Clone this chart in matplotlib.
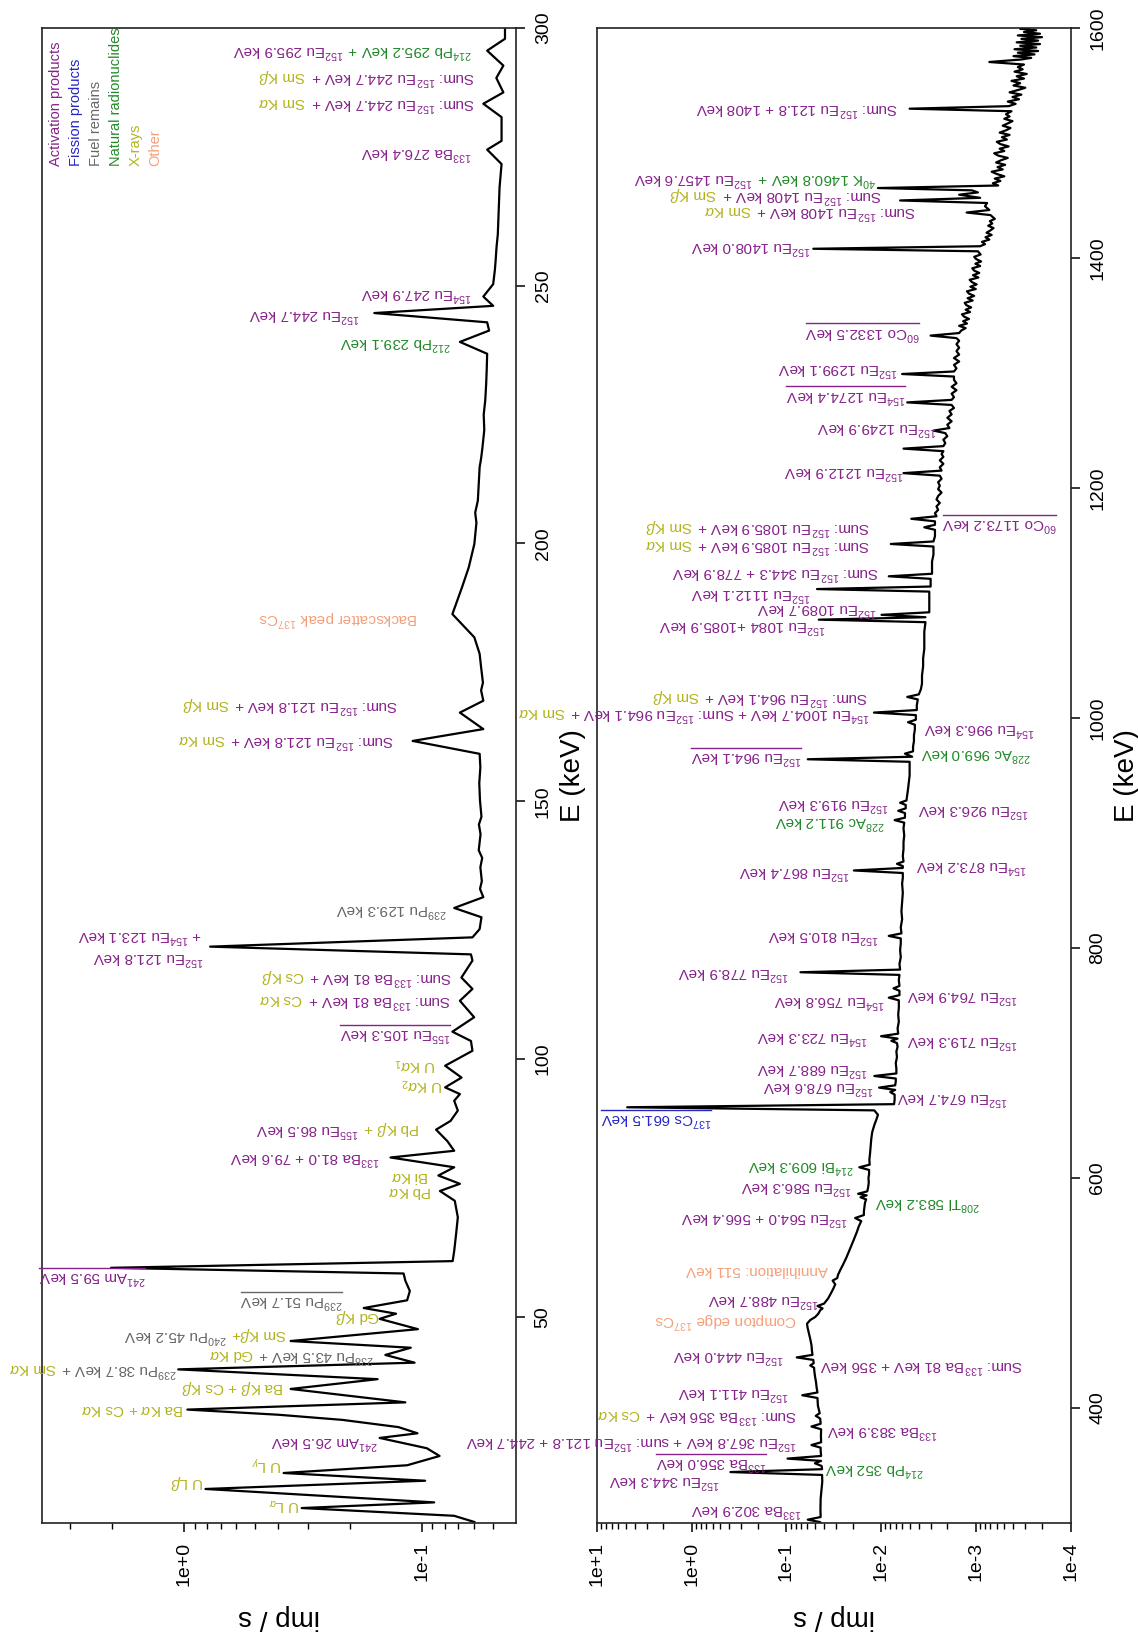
import numpy as np
import matplotlib
matplotlib.use("Agg")
import matplotlib.pyplot as plt
from matplotlib.ticker import FixedLocator, FuncFormatter, LogLocator, NullFormatter
from matplotlib.transforms import ScaledTranslation
from matplotlib.lines import Line2D

plt.rcParams['font.family'] = ['Liberation Sans', 'DejaVu Sans']
plt.rcParams['mathtext.fontset'] = 'custom'
plt.rcParams['mathtext.rm'] = 'Liberation Sans'
plt.rcParams['mathtext.it'] = 'Liberation Sans:italic'
plt.rcParams['mathtext.bf'] = 'Liberation Sans:bold'
plt.rcParams['mathtext.sf'] = 'Liberation Sans'

# spectrum, low energy part: (keV, imp/s)
LOW_SPECTRUM = [
    (10.2, 0.060), (11.4, 0.073), (12.9, 0.319), (14.0, 0.0885), (16.6, 0.810),
    (18.2, 0.0966), (19.7, 0.380), (21.2, 0.115), (23.0, 0.084), (24.5, 0.095),
    (26.5, 0.150), (27.4, 0.104), (28.6, 0.125), (30.0, 0.215), (31.0, 0.40),
    (32.0, 0.965), (33.4, 0.117), (36.0, 0.355), (37.9, 0.153), (39.8, 1.054),
    (41.1, 0.107), (42.6, 0.142), (44.0, 0.111), (45.3, 0.355), (47.6, 0.1036),
    (49.6, 0.150), (50.6, 0.128), (51.7, 0.175), (53.2, 0.115), (55.0, 0.112),
    (57.0, 0.117), (58.4, 0.119), (59.5, 2.02), (60.8, 0.074), (62.8, 0.0729),
    (66.0, 0.0716), (69.3, 0.0704), (72.5, 0.0725), (74.4, 0.0837), (75.8, 0.069),
    (77.4, 0.085), (79.0, 0.0729), (80.9, 0.135), (82.2, 0.0729), (84.1, 0.078),
    (86.3, 0.0869), (88.0, 0.0755), (90.0, 0.0704), (91.9, 0.0729), (93.2, 0.069),
    (94.5, 0.0796), (96.4, 0.0679), (98.7, 0.0796), (101.6, 0.0611), (103.5, 0.062),
    (105.3, 0.0742), (108.1, 0.0601), (111.3, 0.069), (113.6, 0.0611), (115.8, 0.068),
    (119.1, 0.0611), (120.3, 0.062), (121.8, 0.774), (123.6, 0.0611), (125.2, 0.057),
    (127.5, 0.056), (129.3, 0.0729), (131.4, 0.055), (133.0, 0.0568), (134.5, 0.0558),
    (137.2, 0.0566), (139.0, 0.0556), (140.5, 0.0575), (143.6, 0.0565), (145.5, 0.0574),
    (147.0, 0.056), (150.1, 0.0568), (153.5, 0.0572), (156.6, 0.0566), (159.2, 0.057),
    (161.7, 0.109), (164.0, 0.055), (167.2, 0.069), (169.5, 0.055), (171.5, 0.0562),
    (173.0, 0.0552), (176.0, 0.0562), (178.6, 0.057), (181.8, 0.060),
    (183.7, 0.0656), (186.3, 0.0742), (188.3, 0.0716), (191.5, 0.0676), (195.4, 0.0633),
    (199.9, 0.060), (204.0, 0.0588), (206.0, 0.0595), (208.3, 0.058), (211.5, 0.0575),
    (214.8, 0.057), (216.5, 0.0562), (218.5, 0.0555), (222.0, 0.0545), (225.0, 0.0548),
    (227.7, 0.054), (231.0, 0.0535), (234.0, 0.0532), (236.8, 0.053), (239.1, 0.069),
    (241.3, 0.052), (242.9, 0.053), (244.7, 0.158), (246.1, 0.050), (247.9, 0.055),
    (250.3, 0.050), (253.0, 0.0492), (255.0, 0.0488), (257.5, 0.0484), (260.0, 0.0478),
    (264.5, 0.0474), (269.1, 0.047), (273.6, 0.0461), (276.4, 0.053), (278.1, 0.0461),
    (282.7, 0.0461), (285.3, 0.055), (287.5, 0.0453), (290.3, 0.0485), (292.7, 0.0453),
    (295.6, 0.053), (297.9, 0.0446), (300.0, 0.0446),
]

# spectrum, high energy part: (keV, imp/s)
HIGH_SPECTRUM = [
    (300.0, 0.0435), (300.8, 0.044), (302.9, 0.0595), (305.2, 0.0435), (312.0, 0.0437),
    (321.0, 0.0435), (330.0, 0.0425), (336.0, 0.0418), (341.8, 0.042), (344.3, 0.390),
    (346.8, 0.042), (349.6, 0.0425), (351.9, 0.050), (354.0, 0.043), (356.0, 0.0973),
    (358.3, 0.043), (363.2, 0.0435), (365.5, 0.0435), (367.8, 0.0544), (370.2, 0.043),
    (376.0, 0.0432), (381.5, 0.043), (383.9, 0.0544), (386.3, 0.0435), (390.8, 0.044),
    (393.2, 0.049), (395.5, 0.0445), (402.0, 0.0465), (408.7, 0.047), (411.1, 0.068),
    (413.5, 0.047), (418.0, 0.048), (422.6, 0.0487), (428.0, 0.050), (432.7, 0.0508),
    (435.0, 0.051), (437.0, 0.056), (439.0, 0.0515), (441.8, 0.052), (444.0, 0.0778),
    (446.2, 0.053), (450.0, 0.0538), (454.4, 0.0543), (460.0, 0.056), (466.0, 0.0582),
    (470.0, 0.0598), (473.3, 0.0606), (476.5, 0.056), (479.1, 0.0497), (482.0, 0.046),
    (484.9, 0.044), (486.6, 0.0415), (488.7, 0.047), (490.8, 0.040), (495.2, 0.0363),
    (499.5, 0.034), (503.9, 0.0319), (507.5, 0.0305), (510.8, 0.0325), (513.0, 0.029),
    (515.5, 0.0286), (520.0, 0.027), (524.2, 0.0254), (531.0, 0.0232), (538.7, 0.0212),
    (546.0, 0.0195), (553.2, 0.018), (558.0, 0.0172), (562.5, 0.0162), (565.2, 0.0188),
    (567.8, 0.0152), (571.0, 0.0152), (575.0, 0.015), (578.5, 0.0148), (581.4, 0.0144),
    (583.2, 0.0165), (584.9, 0.0142), (586.3, 0.0175), (588.4, 0.014), (592.0, 0.0137),
    (596.0, 0.0135), (600.0, 0.0136), (603.5, 0.0134), (607.0, 0.0134), (609.3, 0.017),
    (611.6, 0.0132), (616.0, 0.0133), (621.0, 0.0131), (627.0, 0.0129), (634.0, 0.0127),
    (640.0, 0.0124), (646.0, 0.0118), (651.0, 0.0112), (655.0, 0.0108), (658.8, 0.0118),
    (661.5, 4.80), (664.2, 0.0073), (668.0, 0.0072), (672.5, 0.0072), (674.7, 0.0080),
    (676.6, 0.0071), (678.6, 0.0105), (680.6, 0.0071), (684.0, 0.0070), (686.5, 0.0070),
    (688.7, 0.0118), (690.9, 0.0069), (695.0, 0.0069), (700.0, 0.0070), (705.0, 0.0068),
    (710.0, 0.0069), (714.0, 0.0067), (717.3, 0.0068), (719.3, 0.0078), (721.2, 0.0067),
    (723.3, 0.0100), (725.5, 0.0066), (730.0, 0.0067), (736.0, 0.0065), (742.0, 0.0066),
    (748.0, 0.0065), (754.5, 0.0065), (756.8, 0.0083), (759.0, 0.0064), (762.8, 0.0064),
    (764.9, 0.0074), (767.0, 0.0064), (772.0, 0.0065), (776.6, 0.0064), (778.9, 0.0711),
    (781.2, 0.0063), (786.0, 0.0064), (792.0, 0.0062), (798.0, 0.0063), (804.0, 0.0062),
    (808.3, 0.0062), (810.5, 0.0083), (812.7, 0.0061), (818.0, 0.0062), (825.0, 0.0060),
    (832.0, 0.0061), (840.0, 0.0060), (848.0, 0.0059), (856.0, 0.0060), (861.0, 0.0059),
    (865.2, 0.0059), (867.4, 0.0194), (869.6, 0.0059), (871.2, 0.0059), (873.2, 0.0068),
    (875.2, 0.0058), (880.0, 0.0059), (886.0, 0.0058), (892.0, 0.0058), (898.0, 0.0057),
    (904.0, 0.0058), (909.0, 0.0057), (911.2, 0.0072), (913.3, 0.0056), (917.3, 0.0056),
    (919.3, 0.0066), (921.4, 0.0055), (924.4, 0.0055), (926.3, 0.0063), (928.3, 0.0054),
    (933.0, 0.0053), (938.0, 0.0052), (944.0, 0.0051), (950.0, 0.0050), (956.0, 0.0050),
    (961.9, 0.0050), (964.1, 0.0595), (966.3, 0.0047), (969.0, 0.0056), (971.0, 0.0046),
    (975.0, 0.0046), (980.0, 0.0045), (985.0, 0.0045), (990.0, 0.0044), (994.1, 0.0044),
    (996.3, 0.0052), (998.5, 0.0043), (1002.5, 0.0043), (1004.7, 0.0119), (1006.9, 0.0042),
    (1011.0, 0.0042), (1016.1, 0.0041), (1018.3, 0.0053), (1020.5, 0.0040), (1025.0, 0.0038),
    (1030.0, 0.0037), (1037.0, 0.0037), (1045.0, 0.0036), (1052.0, 0.0036), (1060.0, 0.0035),
    (1068.0, 0.0035), (1075.0, 0.0035), (1083.3, 0.0034), (1085.5, 0.0455), (1087.6, 0.0034),
    (1089.7, 0.0099), (1091.9, 0.0031), (1096.0, 0.0031), (1101.0, 0.0031), (1105.0, 0.0031),
    (1109.9, 0.0031), (1112.1, 0.0475), (1114.3, 0.0030), (1118.0, 0.0030), (1121.0, 0.0030),
    (1123.2, 0.0083), (1125.4, 0.0029), (1130.0, 0.0029), (1136.0, 0.0029), (1142.0, 0.0028),
    (1149.1, 0.0028), (1151.3, 0.0079), (1153.5, 0.0028), (1158.0, 0.0027), (1163.6, 0.0027),
    (1165.8, 0.0035), (1168.0, 0.0027), (1171.0, 0.0027), (1173.2, 0.0048), (1175.4, 0.0026),
    (1178.0, 0.0027), (1181.0, 0.0025), (1184.0, 0.0026), (1187.0, 0.0024), (1190.0, 0.0026),
    (1193.0, 0.0025), (1196.0, 0.0023), (1199.0, 0.0025), (1202.0, 0.0024), (1205.0, 0.0025),
    (1208.0, 0.0023), (1210.7, 0.0024), (1212.9, 0.0058), (1215.1, 0.0023), (1218.0, 0.0024),
    (1221.0, 0.0022), (1224.0, 0.0024), (1227.0, 0.0022), (1229.5, 0.0023), (1232.0, 0.0022),
    (1234.2, 0.0058), (1236.4, 0.0022), (1239.0, 0.0021), (1242.0, 0.0022), (1245.0, 0.0020),
    (1247.7, 0.0021), (1249.9, 0.0028), (1252.1, 0.0019), (1255.0, 0.0020), (1258.0, 0.0018),
    (1261.0, 0.0020), (1264.0, 0.0018), (1267.0, 0.0019), (1269.5, 0.0017), (1272.2, 0.0018),
    (1274.4, 0.0053), (1276.6, 0.0018), (1279.0, 0.0017), (1282.0, 0.0018), (1285.0, 0.0016),
    (1288.0, 0.0018), (1291.0, 0.0016), (1294.0, 0.0017), (1296.9, 0.0017), (1299.1, 0.0060),
    (1301.3, 0.0017), (1304.0, 0.0016), (1307.0, 0.0017), (1310.0, 0.0015), (1313.0, 0.0017),
    (1316.0, 0.0015), (1319.0, 0.0016), (1322.0, 0.0015), (1325.0, 0.0016), (1328.0, 0.0015),
    (1330.3, 0.0016), (1332.5, 0.0030), (1334.7, 0.0015), (1337.0, 0.00142), (1339.0, 0.00128),
    (1341.0, 0.00150), (1343.0, 0.00124), (1345.0, 0.00136), (1347.0, 0.00118), (1349.0, 0.00133),
    (1351.0, 0.00140), (1353.0, 0.00115), (1355.0, 0.00128), (1357.0, 0.00112), (1359.0, 0.00126),
    (1361.0, 0.00131), (1363.0, 0.00108), (1365.0, 0.00122), (1367.0, 0.00104), (1369.0, 0.00118),
    (1371.0, 0.00124), (1373.0, 0.00100), (1375.0, 0.00114), (1377.0, 0.00098), (1379.0, 0.00110),
    (1381.0, 0.00116), (1383.0, 0.00094), (1385.0, 0.00107), (1387.0, 0.00092), (1389.0, 0.00104),
    (1391.0, 0.00109), (1393.0, 0.00090), (1395.0, 0.00101), (1397.0, 0.00088), (1399.0, 0.00099),
    (1401.0, 0.00104), (1403.0, 0.00089), (1405.8, 0.00095), (1408.0, 0.0520), (1410.2, 0.00090),
    (1412.0, 0.00080), (1414.0, 0.00086), (1416.0, 0.00072), (1418.0, 0.00079), (1420.0, 0.00068),
    (1422.0, 0.00077), (1424.0, 0.00070), (1426.0, 0.00065), (1428.0, 0.00074), (1430.0, 0.00067),
    (1432.0, 0.00071), (1434.0, 0.00063), (1437.3, 0.00070), (1439.5, 0.00125), (1441.7, 0.00072),
    (1445.0, 0.00080), (1447.8, 0.00076), (1450.0, 0.0063), (1452.3, 0.00090), (1455.0, 0.00150),
    (1457.0, 0.00095), (1458.8, 0.00110), (1460.8, 0.0108), (1463.0, 0.00058), (1465.0, 0.00066),
    (1467.0, 0.00055), (1469.0, 0.00063), (1471.0, 0.00050), (1473.0, 0.00060), (1475.0, 0.00068),
    (1477.0, 0.00052), (1479.0, 0.00059), (1481.0, 0.00049), (1483.0, 0.00061), (1485.0, 0.00054),
    (1487.0, 0.00046), (1489.0, 0.00058), (1491.0, 0.00064), (1493.0, 0.00050), (1495.0, 0.00056),
    (1497.0, 0.00045), (1499.0, 0.00055), (1501.0, 0.00060), (1503.0, 0.00047), (1505.0, 0.00053),
    (1507.0, 0.00044), (1509.0, 0.00056), (1511.0, 0.00048), (1513.0, 0.00043), (1515.0, 0.00052),
    (1517.0, 0.00046), (1519.0, 0.00041), (1521.0, 0.00050), (1523.0, 0.00044), (1525.0, 0.00048),
    (1527.6, 0.00042), (1529.8, 0.0050), (1532.0, 0.00045), (1534.0, 0.00038), (1536.0, 0.00046),
    (1538.0, 0.00035), (1540.0, 0.00041), (1542.0, 0.00033), (1544.0, 0.00044), (1546.0, 0.00036),
    (1548.0, 0.00030), (1550.0, 0.00040), (1552.0, 0.00034), (1554.0, 0.00042), (1556.0, 0.00031),
    (1558.0, 0.00037), (1560.0, 0.00029), (1562.0, 0.00039), (1564.0, 0.00032), (1566.0, 0.00036),
    (1568.2, 0.00031), (1570.4, 0.00072), (1572.6, 0.00033), (1574.0, 0.00026), (1575.5, 0.00040),
    (1577.0, 0.00024), (1578.5, 0.00036), (1580.0, 0.00022), (1581.5, 0.00039), (1583.0, 0.00023),
    (1584.5, 0.00034), (1586.0, 0.00021), (1587.5, 0.00037), (1589.0, 0.00022), (1590.5, 0.00033),
    (1592.0, 0.00020), (1593.5, 0.00036), (1595.0, 0.00021), (1596.5, 0.00031), (1598.0, 0.00023),
    (1599.3, 0.00034), (1600.0, 0.00028),
]

LOW_KEV_TICKS = [50, 100, 150, 200, 250, 300]
HIGH_KEV_TICKS = [400, 600, 800, 1000, 1200, 1400, 1600]
LOW_RATE_TICKS = [1.0, 0.1]
HIGH_RATE_TICKS = [10.0, 1.0, 0.1, 0.01, 0.001, 0.0001]

COLORS = {'act': '#86228a', 'fis': '#2626c4', 'fuel': '#666666',
          'nat': '#23892a', 'xr': '#b3b31e', 'oth': '#f5a07a'}

LEGEND = [('Activation products', 'act'), ('Fission products', 'fis'),
          ('Fuel remains', 'fuel'), ('Natural radionuclides', 'nat'),
          ('X-rays', 'xr'), ('Other', 'oth')]

# peak tags: (keV position, imp/s where the text starts, side, [(text, colour)], underline)
LOW_TAGS = [
    (295.6, 0.0611, 'L', [('$^{214}$Pb 295.2 keV +', 'nat'), ('$^{152}$Eu 295.9 keV', 'act')], False),
    (290.3, 0.0599, 'L', [('Sum: $^{152}$Eu 244.7 keV +', 'act'), ('Sm K$\\beta$', 'xr')], False),
    (285.3, 0.0599, 'L', [('Sum: $^{152}$Eu 244.7 keV +', 'act'), ('Sm K$\\alpha$', 'xr')], False),
    (275.9, 0.0611, 'L', [('$^{133}$Ba 276.4 keV', 'act')], False),
    (248.4, 0.0611, 'L', [('$^{154}$Eu 247.9 keV', 'act')], False),
    (244.5, 0.182, 'L', [('$^{152}$Eu 244.7 keV', 'act')], False),
    (239.0, 0.0755, 'L', [('$^{212}$Pb 239.1 keV', 'nat')], False),
    (185.4, 0.1036, 'L', [('Backscatter peak $^{137}$Cs', 'oth')], False),
    (168.5, 0.1257, 'L', [('Sum: $^{152}$Eu 121.8 keV +', 'act'), ('Sm K$\\beta$', 'xr')], False),
    (161.8, 0.130, 'L', [('Sum: $^{152}$Eu 121.8 keV +', 'act'), ('Sm K$\\alpha$', 'xr')], False),
    (129.0, 0.0782, 'L', [('$^{239}$Pu 129.3 keV', 'fuel')], False),
    (124.0, 0.84, 'L', [('+ $^{154}$Eu 123.1 keV', 'act')], False),
    (119.7, 0.82, 'L', [('$^{152}$Eu 121.8 keV', 'act')], False),
    (115.8, 0.0742, 'L', [('Sum: $^{133}$Ba 81 keV +', 'act'), ('Cs K$\\beta$', 'xr')], False),
    (111.3, 0.0755, 'L', [('Sum: $^{133}$Ba 81 keV +', 'act'), ('Cs K$\\alpha$', 'xr')], False),
    (104.9, 0.0755, 'L', [('$^{155}$Eu 105.3 keV', 'act')], True),
    (98.7, 0.0869, 'L', [('U K$\\alpha_1$', 'xr')], False),
    (94.8, 0.0810, 'L', [('U K$\\alpha_2$', 'xr')], False),
    (86.4, 0.1018, 'L', [('Pb K$\\beta$ +', 'xr'), ('$^{155}$Eu 86.5 keV', 'act')], False),
    (80.9, 0.150, 'L', [('$^{133}$Ba 81.0 + 79.6 keV', 'act')], False),
    (77.0, 0.0935, 'L', [('Bi K$\\alpha$', 'xr')], False),
    (74.1, 0.090, 'L', [('Pb K$\\alpha$', 'xr')], False),
    (57.8, 1.446, 'L', [('$^{241}$Am 59.5 keV', 'act')], True),
    (53.1, 0.213, 'L', [('$^{239}$Pu 51.7 keV', 'fuel')], True),
    (49.8, 0.150, 'L', [('Gd K$\\beta$', 'xr')], False),
    (46.3, 0.367, 'L', [('Sm K$\\beta$+', 'xr'), ('$^{240}$Pu 45.2 keV', 'fuel')], False),
    (42.4, 0.158, 'L', [('$^{238}$Pu 43.5 keV +', 'fuel'), ('Gd K$\\alpha$', 'xr')], False),
    (39.8, 1.07, 'L', [('$^{239}$Pu 38.7 keV +', 'fuel'), ('Sm K$\\alpha$', 'xr')], False),
    (36.0, 0.380, 'L', [('Ba K$\\beta$ + Cs K$\\beta$', 'xr')], False),
    (31.8, 1.0, 'L', [('Ba K$\\alpha$ + Cs K$\\alpha$', 'xr')], False),
    (25.9, 0.153, 'L', [('$^{241}$Am 26.5 keV', 'act')], False),
    (21.1, 0.387, 'L', [('U L$_\\gamma$', 'xr')], False),
    (17.6, 0.824, 'L', [('U L$\\beta$', 'xr')], False),
    (13.4, 0.325, 'L', [('U L$_\\alpha$', 'xr')], False),
]

HIGH_TAGS = [
    (312.0, 0.068, 'L', [('$^{133}$Ba 302.9 keV', 'act')], False),
    (336.8, 0.50, 'L', [('$^{152}$Eu 344.3 keV', 'act')], False),
    (352.3, 0.16, 'L', [('$^{133}$Ba 356.0 keV', 'act')], True),
    (347.2, 0.0397, 'R', [('$^{214}$Pb 352 keV', 'nat')], False),
    (371.0, 0.0778, 'L', [('$^{152}$Eu 367.8 keV + sum: $^{152}$Eu 121.8 + 244.7 keV', 'act')], False),
    (380.5, 0.0379, 'R', [('$^{133}$Ba 383.9 keV', 'act')], False),
    (393.6, 0.0778, 'L', [('Sum: $^{133}$Ba 356 keV +', 'act'), ('Cs K$\\alpha$', 'xr')], False),
    (413.9, 0.093, 'L', [('$^{152}$Eu 411.1 keV', 'act')], False),
    (437.0, 0.0455, 'R', [('Sum: $^{133}$Ba 81 keV + 356 keV', 'act')], False),
    (445.7, 0.107, 'L', [('$^{152}$Eu 444.0 keV', 'act')], False),
    (476.3, 0.0778, 'L', [('Compton edge $^{137}$Cs', 'oth')], False),
    (494.6, 0.0455, 'L', [('$^{152}$Eu 488.7 keV', 'act')], False),
    (518.3, 0.0363, 'L', [('Annihilation: 511 keV', 'oth')], False),
    (566.0, 0.0222, 'L', [('$^{152}$Eu 564.0 + 566.4 keV', 'act')], False),
    (579.1, 0.0119, 'R', [('$^{208}$Tl 583.2 keV', 'nat')], False),
    (592.2, 0.0204, 'L', [('$^{152}$Eu 586.3 keV', 'act')], False),
    (611.0, 0.0194, 'L', [('$^{214}$Bi 609.3 keV', 'nat')], False),
    (651.6, 0.611, 'L', [('$^{137}$Cs 661.5 keV', 'fis')], True),
    (670.4, 0.0069, 'R', [('$^{152}$Eu 674.7 keV', 'act')], False),
    (679.2, 0.0119, 'L', [('$^{152}$Eu 678.6 keV', 'act')], False),
    (695.2, 0.0136, 'L', [('$^{152}$Eu 688.7 keV', 'act')], False),
    (719.7, 0.0055, 'R', [('$^{152}$Eu 719.3 keV', 'act')], False),
    (722.6, 0.0136, 'L', [('$^{154}$Eu 723.3 keV', 'act')], False),
    (754.4, 0.0091, 'L', [('$^{154}$Eu 756.8 keV', 'act')], False),
    (758.8, 0.0055, 'R', [('$^{152}$Eu 764.9 keV', 'act')], False),
    (778.5, 0.093, 'L', [('$^{152}$Eu 778.9 keV', 'act')], False),
    (810.9, 0.0104, 'L', [('$^{152}$Eu 810.5 keV', 'act')], False),
    (866.1, 0.0212, 'L', [('$^{152}$Eu 867.4 keV', 'act')], False),
    (871.8, 0.0044, 'R', [('$^{154}$Eu 873.2 keV', 'act')], False),
    (910.0, 0.0091, 'L', [('$^{228}$Ac 911.2 keV', 'nat')], False),
    (925.8, 0.0083, 'L', [('$^{152}$Eu 919.3 keV', 'act')], False),
    (920.5, 0.0042, 'R', [('$^{152}$Eu 926.3 keV', 'act')], False),
    (966.1, 0.068, 'L', [('$^{152}$Eu 964.1 keV', 'act')], True),
    (969.0, 0.0039, 'R', [('$^{228}$Ac 969.0 keV', 'nat')], False),
    (990.7, 0.0036, 'R', [('$^{154}$Eu 996.3 keV', 'act')], False),
    (1003.7, 0.0130, 'L', [('$^{154}$Eu 1004.7 keV + Sum: $^{152}$Eu 964.1 keV +', 'act'),
                           ('Sm K$\\alpha$', 'xr')], False),
    (1018.2, 0.0136, 'L', [('Sum: $^{152}$Eu 964.1 keV +', 'act'), ('Sm K$\\beta$', 'xr')], False),
    (1080.5, 0.0378, 'L', [('$^{152}$Eu 1084 +1085.9 keV', 'act')], False),
    (1095.0, 0.011, 'L', [('$^{152}$Eu 1089.7 keV', 'act')], False),
    (1108.1, 0.0545, 'L', [('$^{152}$Eu 1112.1 keV', 'act')], False),
    (1126.9, 0.0104, 'L', [('Sum: $^{152}$Eu 344.3 + 778.9 keV', 'act')], False),
    (1150.0, 0.013, 'L', [('Sum: $^{152}$Eu 1085.9 keV +', 'act'), ('Sm K$\\alpha$', 'xr')], False),
    (1166.0, 0.013, 'L', [('Sum: $^{152}$Eu 1085.9 keV +', 'act'), ('Sm K$\\beta$', 'xr')], False),
    (1169.0, 0.0023, 'R', [('$^{60}$Co 1173.2 keV', 'act')], True),
    (1213.9, 0.0058, 'L', [('$^{152}$Eu 1212.9 keV', 'act')], False),
    (1253.0, 0.0026, 'L', [('$^{152}$Eu 1249.9 keV', 'act')], False),
    (1280.5, 0.0055, 'L', [('$^{154}$Eu 1274.4 keV', 'act')], True),
    (1303.7, 0.0066, 'L', [('$^{152}$Eu 1299.1 keV', 'act')], False),
    (1335.6, 0.0039, 'L', [('$^{60}$Co 1332.5 keV', 'act')], True),
    (1409.6, 0.0545, 'L', [('$^{152}$Eu 1408.0 keV', 'act')], False),
    (1440.0, 0.00424, 'L', [('Sum: $^{152}$Eu 1408 keV +', 'act'), ('Sm K$\\alpha$', 'xr')], False),
    (1454.0, 0.0099, 'L', [('Sum: $^{152}$Eu 1408 keV +', 'act'), ('Sm K$\\beta$', 'xr')], False),
    (1469.5, 0.0114, 'L', [('$^{40}$K 1460.8 keV +', 'nat'), ('$^{152}$Eu 1457.6 keV', 'act')], False),
    (1529.8, 0.0066, 'L', [('Sum: $^{152}$Eu 121.8 + 1408 keV', 'act')], False),
]

TAG_SIZE = 11
TICK_SIZE = 14
LABEL_SIZE = 20

fig = plt.figure(figsize=(11.38, 16.35), dpi=100)
ax_lo = fig.add_axes([0.0369, 0.0685, 0.4165, 0.9144])
ax_hi = fig.add_axes([0.5246, 0.0685, 0.4161, 0.9144])


def rate_label(v, pos):
    return "1e{:+d}".format(int(round(np.log10(v))))


def setup(ax, spectrum, kev_lim, rate_lim, kev_ticks, rate_ticks):
    kev, cps = np.array(spectrum).T
    ax.plot(cps, kev, color='black', lw=1.6)
    ax.set_xscale('log')
    ax.set_xlim(*rate_lim)
    ax.set_ylim(*kev_lim)
    for sp in ax.spines.values():
        sp.set_linewidth(1.2)
        sp.set_color('#222222')
    ax.xaxis.set_ticks_position('bottom')
    ax.yaxis.set_ticks_position('right')
    ax.xaxis.set_major_locator(FixedLocator(rate_ticks))
    ax.xaxis.set_major_formatter(FuncFormatter(rate_label))
    ax.xaxis.set_minor_locator(LogLocator(base=10, subs=np.arange(2, 10), numticks=30))
    ax.xaxis.set_minor_formatter(NullFormatter())
    ax.yaxis.set_major_locator(FixedLocator(kev_ticks))
    ax.tick_params(axis='x', which='major', direction='out', length=6.5, width=1.1,
                   labelsize=TICK_SIZE, labelrotation=90, pad=7)
    ax.tick_params(axis='x', which='minor', direction='out', length=4.3, width=1.0)
    ax.tick_params(axis='y', which='major', direction='out', length=6.5, width=1.1,
                   labelsize=TICK_SIZE, labelrotation=90, pad=7)
    ax.tick_params(axis='y', which='minor', length=0)
    for lab in ax.get_yticklabels():
        lab.set_va('center')
    ax.set_xlabel('imp / s', fontsize=LABEL_SIZE, rotation=180)
    ax.xaxis.set_label_coords(0.5, -0.063)
    ax.xaxis.label.set_va('center')
    ax.set_ylabel('E (keV)', fontsize=LABEL_SIZE, rotation=90)
    ax.yaxis.set_label_position('right')
    ax.yaxis.set_label_coords(1.12, 0.5)
    ax.yaxis.label.set_va('center')


setup(ax_lo, LOW_SPECTRUM, (10, 300), (3.94, 0.0401), LOW_KEV_TICKS, LOW_RATE_TICKS)
setup(ax_hi, HIGH_SPECTRUM, (300, 1600), (10, 1e-4), HIGH_KEV_TICKS, HIGH_RATE_TICKS)

# colour key, upper corner of the low energy panel
for i, (name, key) in enumerate(LEGEND):
    ax_lo.text(0.03 + i * 0.042, 0.908, name, color=COLORS[key], fontsize=10.5,
               rotation=90, ha='center', va='bottom', transform=ax_lo.transAxes)

placed = []
for ax, tags in ((ax_lo, LOW_TAGS), (ax_hi, HIGH_TAGS)):
    for kev, rate, side, pieces, under in tags:
        arts = [ax.text(rate, kev, txt, color=COLORS[key], fontsize=TAG_SIZE,
                        rotation=180, rotation_mode='anchor', ha='left',
                        va='baseline', clip_on=False)
                for txt, key in pieces]
        placed.append((ax, kev, rate, arts, side, under))

# lay the coloured pieces of every tag end to end (text runs upside down)
renderer = fig.canvas.get_renderer()
px = fig.dpi / 72.0
gap = 0.28 * TAG_SIZE * px
lift = 0.36 * TAG_SIZE * px
inv = fig.transFigure.inverted()
for ax, kev, rate, arts, side, under in placed:
    widths = [a.get_window_extent(renderer).width for a in arts]
    total = sum(widths) + gap * (len(arts) - 1)
    run = 0.0 if side == 'L' else total
    for a, w in zip(arts, widths):
        a.set_transform(ax.transData + ScaledTranslation(run / fig.dpi, lift / fig.dpi,
                                                         fig.dpi_scale_trans))
        run -= w + gap
    if under:
        boxes = [a.get_window_extent(renderer) for a in arts]
        x0 = min(b.x0 for b in boxes) + 1.0
        x1 = max(b.x1 for b in boxes) - 1.0
        base = ax.transData.transform((rate, kev))[1] + lift
        y = base + 3.5
        (fx0, fy), (fx1, _) = inv.transform([(x0, y), (x1, y)])
        fig.add_artist(Line2D([fx0, fx1], [fy, fy], transform=fig.transFigure,
                              color=arts[0].get_color(), lw=1.0))

fig.savefig('out.png', dpi=100)
